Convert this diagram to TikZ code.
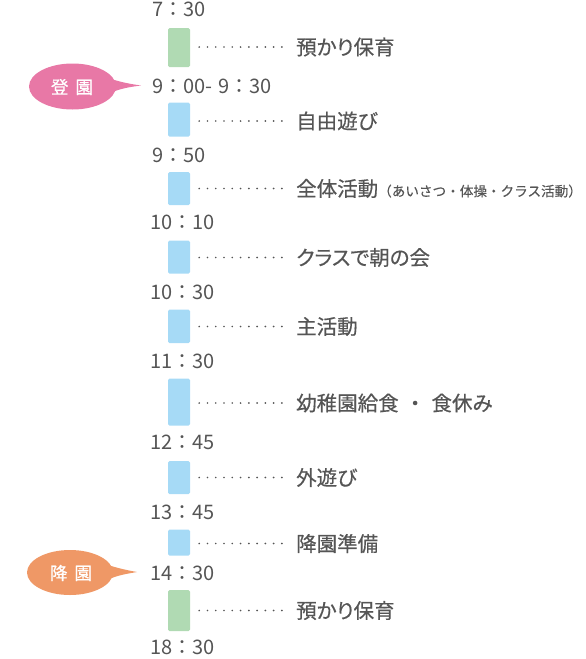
\documentclass[tikz,border=0pt]{standalone}
\usepackage{fontspec}
\setmainfont{Noto Sans CJK JP}
\newfontfamily\lblfont[RawFeature=+palt,FakeBold=0.5]{Noto Sans CJK JP}
\newfontfamily\smlfont[FakeBold=0.3]{Noto Sans CJK JP}
\newfontfamily\bubfont[FakeBold=0.8]{Noto Sans CJK JP}
\begin{document}
\begin{tikzpicture}[x=1pt,y=-1pt,
  txt/.style={text=textgray, inner sep=0pt},
  timelbl/.style={txt, anchor=west, font=\fontsize{20}{20}\selectfont},
  actlbl/.style={txt, anchor=west, font=\lblfont\fontsize{20.5}{21}\selectfont},
  blk/.style={draw=none, fill=#1, rounded corners=1.5pt, minimum width=22pt, inner sep=0pt, anchor=north},
  dotline/.style={draw=textgray, line width=1.9pt, line cap=round, dash pattern=on 0pt off 8.27pt},
  bubtxt/.style={text=white, inner sep=0pt, font=\bubfont\fontsize{17.5}{18}\selectfont}
]
\definecolor{textgray}{HTML}{555555}
\definecolor{gblk}{HTML}{B0DAB3}
\definecolor{bblk}{HTML}{A6DAF6}
\definecolor{pinkb}{HTML}{E878A6}
\definecolor{orangeb}{HTML}{EF9866}
\useasboundingbox (0,0) rectangle (586,659);

% times
\node[timelbl] (t1) at (152,9) {7：30};
\node[timelbl] (t2) at (152,86) {9：00-\hspace{6pt}9：30};
\node[timelbl] (t3) at (152,155) {9：50};
\node[timelbl] (t4) at (150,222) {10：10};
\node[timelbl] (t5) at (150,292) {10：30};
\node[timelbl] (t6) at (150,361) {11：30};
\node[timelbl] (t7) at (150,442) {12：45};
\node[timelbl] (t8) at (150,512) {13：45};
\node[timelbl] (t9) at (150,573) {14：30};
\node[timelbl] (t10) at (150,647) {18：30};

% blocks
\node[blk=gblk, minimum height=39pt] (b1) at (179,28) {};
\node[blk=bblk, minimum height=34pt] (b2) at (179,102.5) {};
\node[blk=bblk, minimum height=33pt] (b3) at (179,172) {};
\node[blk=bblk, minimum height=33pt] (b4) at (179,240.5) {};
\node[blk=bblk, minimum height=33.5pt] (b5) at (179,309.5) {};
\node[blk=bblk, minimum height=47pt] (b6) at (179,378.5) {};
\node[blk=bblk, minimum height=33pt] (b7) at (179,461) {};
\node[blk=bblk, minimum height=26pt] (b8) at (179,529.5) {};
\node[blk=gblk, minimum height=41pt] (b9) at (179,590) {};

% activity labels
\node[actlbl] (l1) at (296,47) {預かり保育};
\node[actlbl] (l2) at (296,121) {自由遊び};
\node[actlbl] (l3) at (296,188.5) {全体活動{\smlfont\fontsize{13.6}{14}\selectfont（あいさつ・体操・クラス活動）}};
\node[actlbl] (l4) at (296,257.5) {クラスで朝の会};
\node[actlbl] (l5) at (296,326.5) {主活動};
\node[actlbl] (l6) at (296,403) {幼稚園給食\makebox[1.6em]{・}食休み};
\node[actlbl] (l7) at (296,477.5) {外遊び};
\node[actlbl] (l8) at (296,543.5) {降園準備};
\node[actlbl] (l9) at (296,610.5) {預かり保育};

% dotted connectors
\foreach \i in {1,...,9}{
  \path[dotline] ([xshift=9pt]b\i.east |- l\i.west) -- ([xshift=-13.5pt]l\i.west);
}

% bubbles
\fill[pinkb] (72.5,86.5) ellipse [x radius=43.5pt, y radius=23pt];
\fill[pinkb] (108,78) .. controls (120,82) and (130,84) .. (141,85.5) .. controls (130,87) and (122,88) .. (110,93) -- cycle;
\node[bubtxt] (s1) at (72,87) {登\hspace{7pt}園};

\fill[orangeb] (70,572.5) ellipse [x radius=43pt, y radius=22.5pt];
\fill[orangeb] (105,564) .. controls (117,568) and (126,570) .. (137,572) .. controls (126,574) and (118,575) .. (107,580) -- cycle;
\node[bubtxt] (s2) at (71,573) {降\hspace{7pt}園};
\end{tikzpicture}
\end{document}
